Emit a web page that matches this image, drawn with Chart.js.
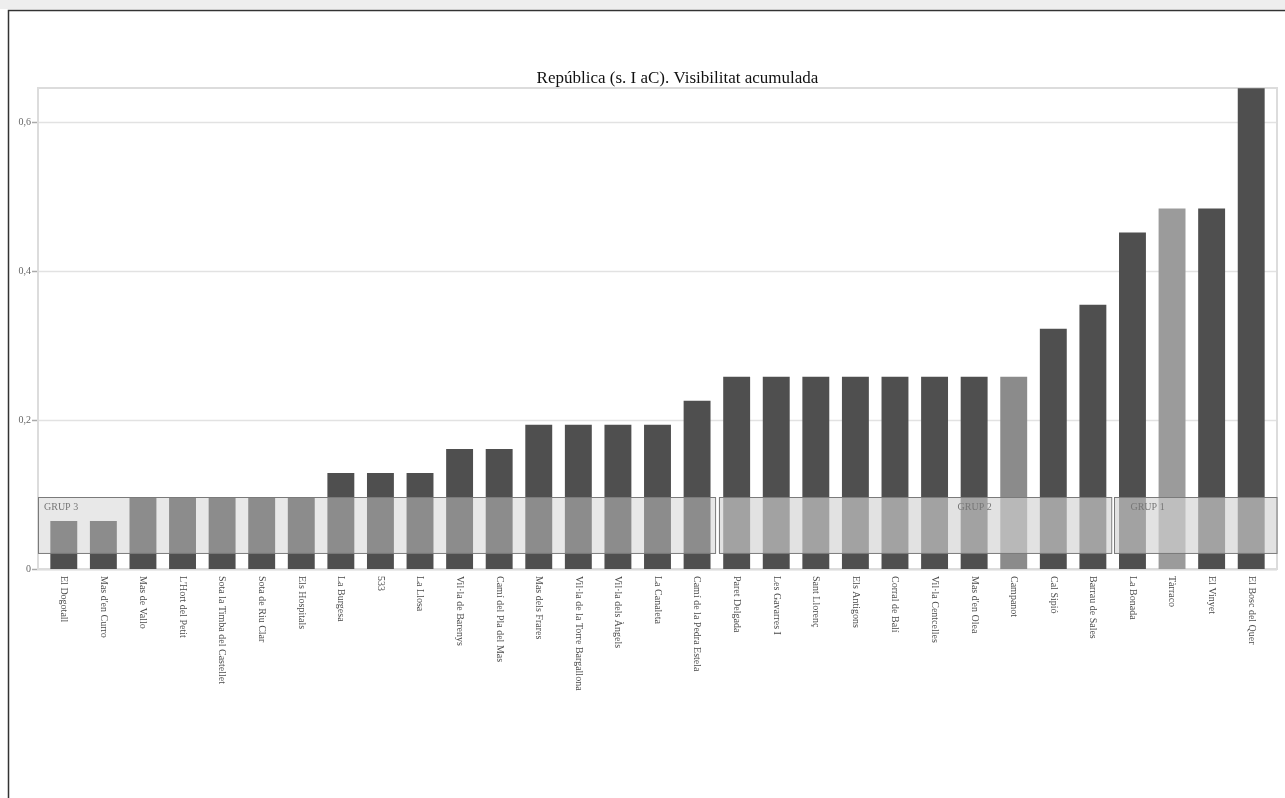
<!DOCTYPE html>
<html lang="ca">
<head>
    <meta charset="UTF-8">
    <title>República (s. I aC). Visibilitat acumulada</title>
    <script src="https://cdn.jsdelivr.net/npm/chart.js"></script>
    <style>
        html, body { margin: 0; padding: 0; background: #fff; }
        #wrap { width: 1285px; height: 798px; position: relative; }
    </style>
</head>
<body>
    <div id="wrap"><canvas id="visChart"></canvas></div>

    <script>
        // Jaciments ordenats per visibilitat acumulada
        const sites = [
            'El Dogotall', "Mas d'en Curro", 'Mas de Vallo', "L'Hort del Petit",
            'Sota la Timba del Castellet', 'Sota de Riu Clar', 'Els Hospitals',
            'La Burgesa', '533', 'La Llosa', 'Vil·la de Barenys', 'Camí del Pla del Mas',
            'Mas dels Frares', 'Vil·la de la Torre Bargallona', 'Vil·la dels Àngels',
            'La Canaleta', 'Camí de la Pedra Estela', 'Paret Delgada', 'Les Gavarres I',
            'Sant Llorenç', 'Els Antigons', 'Corral de Balí', 'Vil·la Centcelles',
            "Mas d'en Olea", 'Campanot', 'Cal Sipió', 'Barrau de Sales', 'La Bonada',
            'Tàrraco', 'El Vinyet', 'El Bosc del Quer'
        ];
        const visibility = [
            0.0645, 0.0645, 0.0968, 0.0968, 0.0968, 0.0968, 0.0968,
            0.129, 0.129, 0.129, 0.161, 0.161,
            0.1935, 0.1935, 0.1935, 0.1935, 0.2258,
            0.258, 0.258, 0.258, 0.258, 0.258, 0.258, 0.258, 0.258,
            0.3226, 0.3548, 0.4516, 0.4839, 0.4839, 0.6452
        ];
        const yTicks = [0, 0.2, 0.4, 0.6];
        // grups: índex del primer i últim jaciment
        const groupNames = ['GRUP 3', 'GRUP 2', 'GRUP 1'];
        const groupFrom = [0, 17, 27];
        const groupTo = [16, 26, 30];
        const lightSites = ['Campanot', 'Tàrraco'];

        const SERIF = "'Liberation Serif', 'DejaVu Serif', serif";
        const DARK = '#4f4f4f';
        const lightColors = { 'Campanot': '#8b8b8b', 'Tàrraco': '#9b9b9b' };
        const boxFill = ['rgba(207,207,207,0.48)', 'rgba(210,210,210,0.64)', 'rgba(210,210,210,0.64)'];
        const FRAME_PAD = 6;

        const barColors = sites.map(s => lightSites.includes(s) ? lightColors[s] : DARK);

        const decorations = {
            id: 'decorations',
            beforeDraw(chart) {
                const { ctx, chartArea: a, scales: { y } } = chart;
                const fl = a.left - FRAME_PAD, fr = a.right + FRAME_PAD;
                ctx.save();
                // outer page border
                ctx.fillStyle = '#eeeeee';
                ctx.fillRect(0, 0, chart.width, 9);
                ctx.strokeStyle = '#333';
                ctx.lineWidth = 1.5;
                ctx.beginPath();
                ctx.moveTo(8.5, chart.height);
                ctx.lineTo(8.5, 10.5);
                ctx.lineTo(chart.width, 10.5);
                ctx.stroke();
                // grid lines and tick marks
                ctx.lineWidth = 1.5;
                yTicks.forEach(v => {
                    const py = Math.round(y.getPixelForValue(v)) + 0.5;
                    ctx.strokeStyle = v === 0 ? '#b0b0b0' : '#e2e2e2';
                    ctx.beginPath();
                    ctx.moveTo(fl, py);
                    ctx.lineTo(fr, py);
                    ctx.stroke();
                    ctx.strokeStyle = '#aaa';
                    ctx.beginPath();
                    ctx.moveTo(fl - 6, py);
                    ctx.lineTo(fl, py);
                    ctx.stroke();
                });
                // plot frame
                ctx.strokeStyle = '#dcdcdc';
                ctx.lineWidth = 2;
                ctx.strokeRect(fl, a.top, fr - fl, a.bottom - a.top);
                // title
                ctx.fillStyle = '#111';
                ctx.font = '17px ' + SERIF;
                ctx.textAlign = 'center';
                ctx.textBaseline = 'middle';
                ctx.fillText('República (s. I aC). Visibilitat acumulada', (fl + fr) / 2 + 20, 79);
                ctx.restore();
            },
            afterDatasetsDraw(chart) {
                const { ctx, chartArea: a, scales: { x, y } } = chart;
                const fl = a.left - FRAME_PAD, fr = a.right + FRAME_PAD;
                const top = y.getPixelForValue(0.0966), bottom = y.getPixelForValue(0.0215);
                ctx.save();
                groupNames.forEach((name, g) => {
                    const left = groupFrom[g] === 0 ? fl : x.getPixelForValue(groupFrom[g]) - 18;
                    const right = groupTo[g] === sites.length - 1 ? fr : x.getPixelForValue(groupTo[g]) + 18;
                    ctx.fillStyle = boxFill[g];
                    ctx.fillRect(left, top, right - left, bottom - top);
                    ctx.strokeStyle = '#7a7a7a';
                    ctx.lineWidth = 1;
                    ctx.strokeRect(Math.round(left) + 0.5, Math.round(top) + 0.5, right - left, bottom - top);
                    ctx.fillStyle = '#777';
                    ctx.font = '10px ' + SERIF;
                    ctx.textAlign = 'left';
                    ctx.textBaseline = 'middle';
                    let tx = left + 6;
                    if (g === 1) tx = x.getPixelForValue(22) + 23;
                    if (g === 2) tx = x.getPixelForValue(27) - 2;
                    ctx.fillText(name, tx, top + 10);
                });
                // category labels, reading top to bottom
                ctx.fillStyle = '#4a4a4a';
                ctx.font = '10px ' + SERIF;
                ctx.textAlign = 'left';
                ctx.textBaseline = 'middle';
                sites.forEach((s, i) => {
                    ctx.save();
                    ctx.translate(x.getPixelForValue(i), a.bottom + 7);
                    ctx.rotate(Math.PI / 2);
                    ctx.fillText(s, 0, 0);
                    ctx.restore();
                });
                ctx.restore();
            }
        };

        const ctx = document.getElementById('visChart').getContext('2d');
        new Chart(ctx, {
            type: 'bar',
            data: {
                labels: sites,
                datasets: [{
                    label: 'Visibilitat acumulada',
                    data: visibility,
                    backgroundColor: barColors,
                    borderWidth: 0,
                    categoryPercentage: 1,
                    barPercentage: 0.68
                }]
            },
            options: {
                responsive: true,
                maintainAspectRatio: false,
                animation: false,
                layout: { padding: { top: 88, right: 14, bottom: 221, left: 0 } },
                plugins: {
                    legend: { display: false },
                    title: { display: false },
                    tooltip: { enabled: false }
                },
                scales: {
                    x: {
                        ticks: { display: false },
                        grid: { display: false },
                        border: { display: false }
                    },
                    y: {
                        min: 0,
                        max: 0.6456,
                        afterFit(scale) { scale.width = 44; },
                        afterBuildTicks(scale) { scale.ticks = yTicks.map(v => ({ value: v })); },
                        ticks: {
                            padding: 5,
                            color: '#666',
                            font: { family: SERIF, size: 10 },
                            callback: v => v === 0 ? '0' : v.toFixed(1).replace('.', ',')
                        },
                        grid: { display: false },
                        border: { display: false }
                    }
                }
            },
            plugins: [decorations]
        });
    </script>
</body>
</html>
